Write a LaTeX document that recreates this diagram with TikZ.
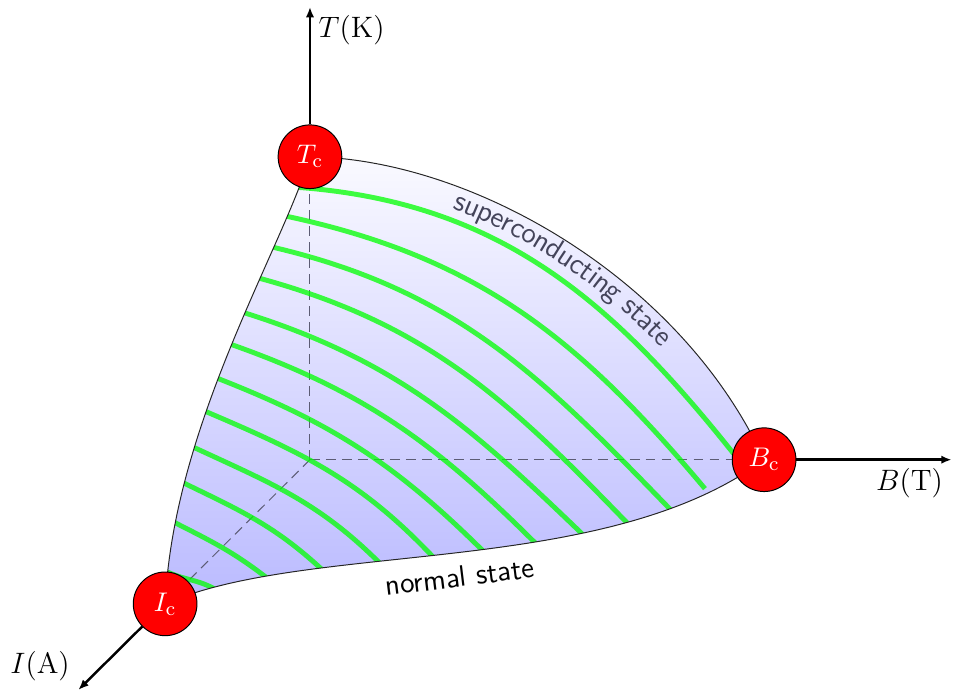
\documentclass[tikz,border=0pt]{standalone}
\usepackage{xcolor}
\usepackage{tikz}
\usetikzlibrary{arrows.meta,decorations.text}
\definecolor{statelabel}{HTML}{44445A}
\definecolor{hiddenaxis}{HTML}{5C5C74}
\newcommand{\sheetpath}{(tc) .. controls (2.3,4.3) and (5.3,2.6) .. (bc)
  .. controls (4.2,-1.7) and (0,-1.15) .. (ic)
  .. controls (-1.95,0.5) and (-0.4,3.0) .. cycle}

\begin{document}
\begin{tikzpicture}[
    crit/.style={circle,draw=black,fill=red,text=white,minimum size=9.1mm,inner sep=0pt,font=\fontsize{11}{13}\selectfont},
    axis/.style={line width=1pt,-{Latex[length=4.2pt,width=3.4pt]}},
    axisname/.style={font=\large},
    hidden/.style={hiddenaxis,thin,dash pattern=on 4pt off 2.5pt},
    isoline/.style={green,line width=2pt,opacity=0.75,shorten <=-2pt,shorten >=-2pt}]
  \useasboundingbox (-4.43,-3.3) rectangle (9.19,6.57);
  \coordinate (O) at (0,0);
  \coordinate (tc) at (0,4.33);
  \coordinate (bc) at (6.49,0);
  \coordinate (ic) at (-2.07,-2.06);
  \coordinate (Ttip) at (0,6.47);
  \coordinate (Btip) at (9.17,0);
  \coordinate (Itip) at (-3.31,-3.29);

  % critical surface
  \shade[top color=blue!2,bottom color=blue!27] \sheetpath;
  \begin{scope}
    \clip \sheetpath;
    \draw[hidden] (O) -- (tc);
    \draw[hidden] (O) -- (bc);
    \draw[hidden] (O) -- (ic);
    \foreach \lx/\ly/\rx/\ry/\outa/\ina in {
        -0.14/3.89/6.21/-0.11/-4/128,
        -0.29/3.47/5.60/-0.36/-12/130,
        -0.50/3.03/5.13/-0.69/-13/134,
        -0.71/2.59/4.53/-0.90/-15/134,
        -0.97/2.11/3.90/-1.07/-17/136,
        -1.19/1.67/3.24/-1.21/-19/135,
        -1.39/1.19/2.50/-1.33/-21/135,
        -1.54/0.71/1.76/-1.39/-23/133,
        -1.69/0.19/0.96/-1.44/-25/135,
        -1.81/-0.33/0.14/-1.54/-26/137,
        -1.93/-0.90/-0.64/-1.67/-27/142,
        -2.03/-1.61/-1.39/-1.83/-27/150}
      \draw[isoline] (\lx,\ly) to[out=\outa,in=\ina] (\rx,\ry);
  \end{scope}
  \draw[line width=0.4pt,black!85] \sheetpath;

  % labels on the surface
  \path[decorate,decoration={text along path,text align=center,raise=-9pt,
      text color=statelabel,text={|\large\sffamily|superconducting state}}]
    (tc) .. controls (2.3,4.3) and (5.3,2.6) .. (bc);
  \node[font=\large\sffamily,rotate=7] (normal) at (2.14,-1.67) {normal state};

  % critical points and axes
  \node[crit] (Tc) at (tc) {$T_\mathrm{c}$};
  \node[crit] (Bc) at (bc) {$B_\mathrm{c}$};
  \node[crit] (Ic) at (ic) {$I_\mathrm{c}$};
  \draw[axis] (Tc) -- (Ttip);
  \draw[axis] (Bc) -- (Btip);
  \draw[axis] (Ic) -- (Itip);
  \node[axisname,below right] (Tname) at (Ttip) {$T(\mathrm{K})$};
  \node[axisname,below left] (Bname) at (Btip) {$B(\mathrm{T})$};
  \node[axisname,above left] (Iname) at (Itip) {$I(\mathrm{A})$};
\end{tikzpicture}
\end{document}
